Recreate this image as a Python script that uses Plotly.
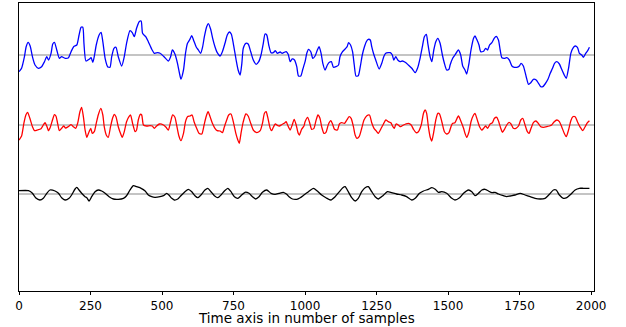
import plotly.graph_objects as go

# ---------------- data (sample index, amplitude) ----------------
blue_x = [0, 9, 19, 25, 32, 39, 47, 56, 68, 79, 89, 97, 103, 112, 118, 124, 132, 141, 149, 161, 173, 182, 191, 202, 210, 217, 223, 227, 234, 245, 252, 258, 263, 270, 280, 287, 293, 301, 310, 318, 324, 332, 339, 347, 359, 368, 376, 388, 396, 403, 411, 420, 427, 432, 443, 452, 464, 473, 485,
          493, 507, 522, 530, 536, 545, 554, 561, 566, 575, 582, 589, 596, 604, 610, 619, 627, 635, 642, 648, 656, 662, 670, 677, 685, 693, 703, 711, 720, 728, 735, 742, 749, 759, 766, 773, 779, 784, 793, 801, 810, 819, 829, 838, 846, 854, 860, 866, 873, 881, 889, 896, 903, 913, 920, 927, 934, 941, 948, 955, 963, 971, 977, 985, 992,
          1000, 1006, 1012, 1020, 1027, 1035, 1043, 1049, 1056, 1062, 1070, 1078, 1085, 1092, 1099, 1108, 1117, 1122, 1131, 1140, 1147, 1152, 1159, 1166, 1172, 1178, 1186, 1193, 1200, 1207, 1214, 1221, 1228, 1233, 1239, 1247, 1259, 1268, 1275, 1282, 1291, 1298, 1305, 1310, 1317, 1324, 1332, 1340, 1350, 1361, 1373, 1385, 1393, 1402, 1410, 1417, 1424, 1429, 1437, 1443, 1450, 1457, 1464, 1472, 1480, 1487, 1495, 1503,
          1507, 1516, 1524, 1536, 1544, 1551, 1559, 1565, 1573, 1580, 1589, 1594, 1600, 1608, 1614, 1624, 1631, 1638, 1645, 1653, 1661, 1668, 1676, 1682, 1688, 1696, 1705, 1714, 1723, 1732, 1740, 1749, 1755, 1763, 1773, 1781, 1789, 1798, 1808, 1816, 1824, 1831, 1839, 1849, 1857, 1865, 1872, 1880, 1889, 1897, 1906, 1913, 1921, 1929, 1936, 1944, 1952, 1959, 1967, 1973, 1981, 1988, 1994]
blue_y = [-16.7, -13.3, -1.7, 8.3, 12.7, 9, -1.7, -10, -13.3, -11.7, -6.7, -1.7, -5, 1.7, 11, 12.7, 5, -3.3, -1.7, -3.3, -2.7, 3.3, 8.3, 10, 20, 27.7, 27.7, 11.7, -6, -4.3, -2.7, -7.3, -1.7, 10, 20, 22.7, 13.3, -3.3, -11.7, -12.3, -1.7, 6.7, 7.7, -1.7, -11, -1.7, 11.7, 24.3, 22.3, 18.3, 26.7, 33.3, 34, 21.7, 18.3, 13.3, 5.7, 1.7, 2.3,
          1.7, -1.7, -6, -1.7, 5, 1, -8.3, -18.3, -24, -15, 1.7, 11.7, 15, 19.3, 15, 8.3, 5, 1.7, 8.3, 18.3, 28.3, 31.3, 25.7, 16.7, 8.3, 2.3, -1, 3.3, 11.7, 20, 23, 21, 11.7, -5, -15, -20, -8.3, 6.7, 11.7, 11, 3.3, -5, -9.3, -6.7, 0, 11.7, 21, 20, 10, 2.3, 2.3, 4.3, 1.7, 3, 1.7, 2.7, 3.3, 0.7, -6.7, -4, -5, -11.7, -21, -21, -14.3,
          -6.7, 1.7, 5.7, 3.3, -3.3, -1, 5, 8.3, 1.7, -8.3, -15, -10, -7.3, -6.7, -12.3, -11.7, -10, -1.7, 3.3, 6, 8.3, 12.3, 10, 3.3, -10, -21, -20.7, -11.7, 0, 7.7, 13.3, 15.7, 15, 8.3, 1.7, -5, -14, -8.3, -1.7, 1.7, 2.3, 2.3, 0, -5, -1.7, -5, -6.7, -6, -7.3, -10, -13.3, -17.7, -13.3, -3.3, 8.3, 18.3, 20.7, 11.7, -1.7, -6.7, 5, 13.3, 16.7, 11.7, 0, -8.3, -15, -14.3,
          -10, -3.3, 0, 5, 0, -11, -15, -19, -8.3, 5, 16.7, 19, 15.7, 10, 3.3, 3.7, 6.7, 5, 10, 12.3, 16.7, 18.7, 15, 5, -2.7, -3.3, -2.7, -5, -11, -12.3, -12.3, -11, -8.3, -11, -21.7, -29.3, -27.7, -24.3, -25, -28.3, -31.7, -31.7, -29, -24.3, -18.3, -13.3, -8.3, -6.7, -9, -14.3, -20, -23.3, -13.3, 1.7, 6.7, 9, 7.7, 1.7, 0, -2.3, 1.7, 4.3, 7.7]

red_x = [0, 9, 17, 24, 30, 38, 47, 54, 65, 77, 85, 91, 98, 103, 110, 117, 124, 129, 135, 141, 149, 156, 163, 172, 182, 190, 198, 205, 213, 219, 225, 231, 237, 245, 251, 256, 263, 270, 277, 286, 293, 298, 305, 312, 320, 327, 333, 339, 347, 357, 361, 368, 376, 385, 390, 397, 406, 411, 417, 424, 429, 435, 446, 458, 466, 473, 481, 491,
         505, 514, 522, 530, 537, 545, 551, 559, 566, 575, 582, 589, 598, 605, 612, 621, 629, 639, 647, 654, 661, 668, 676, 685, 693, 703, 711, 718, 726, 733, 741, 749, 758, 765, 770, 776, 784, 793, 801, 810, 819, 831, 843, 851, 858, 864, 869, 878, 883, 889, 896, 903, 910, 918, 927, 934, 939, 948, 955, 962, 969, 976, 980, 988, 996,
         1000, 1009, 1016, 1023, 1031, 1038, 1045, 1052, 1058, 1066, 1073, 1082, 1090, 1096, 1103, 1113, 1120, 1128, 1138, 1146, 1154, 1161, 1169, 1175, 1181, 1189, 1198, 1206, 1216, 1225, 1233, 1241, 1248, 1256, 1266, 1274, 1282, 1291, 1300, 1307, 1312, 1318, 1326, 1334, 1344, 1352, 1361, 1371, 1379, 1388, 1396, 1406, 1414, 1420, 1425, 1431, 1437, 1443, 1449, 1457, 1464, 1470, 1478, 1487, 1495, 1503, 1510,
         1516, 1524, 1536, 1544, 1554, 1559, 1565, 1573, 1580, 1589, 1594, 1603, 1610, 1618, 1624, 1631, 1638, 1647, 1655, 1662, 1670, 1677, 1684, 1690, 1697, 1705, 1713, 1720, 1728, 1737, 1746, 1754, 1761, 1769, 1777, 1783, 1790, 1798, 1807, 1815, 1824, 1833, 1845, 1854, 1862, 1871, 1880, 1889, 1897, 1906, 1913, 1921, 1929, 1936, 1944, 1952, 1962, 1971, 1979, 1987, 1994]
red_y = [-15, -11, 1.7, 10, 12.7, 6.7, -1.7, -5.7, -5, -3.7, 0, 2.3, -1.7, -5.7, -1.7, 5, 10.3, 9, 1.7, -5.7, -3.3, -1, -3, -1.7, 0.3, -1.7, -3.3, 1.7, 13.3, 17.7, 8.3, -5, -12.3, -6.7, -3.3, -8.3, -6.7, 1.7, 10, 16.7, 10, -1.7, -10, -12.3, -1.7, 6.7, 10.7, 8.3, -1.7, -10, -12.3, -6.7, 3.3, 8.7, 10, 1.7, -6.7, -5, 5, 10.7, 10, 0, -1, -0.7, -1, -3.3, -1, 1,
         0, -2.3, -5, 3.3, 10, 7.7, 0, -11, -15.7, -8.3, 3.3, 8.3, 9, 10, 3.3, -3.3, -8.3, -9, 0, 8.3, 13.3, 8.3, 1.7, -3.3, -5.7, -6, -7.7, -1.7, 5, 10, 11, 3.3, -8.3, -15, -18.3, -8.3, 3.3, 11, 9, 1.7, -5, -7.7, -5.7, 1.7, 11.7, 13.3, 8.3, -3.3, -5.7, -2.3, 1, -0.3, -1, 0.3, 1.7, 3.3, 0, -5, 0, 5.7, 0, -8.3, -10, -4.3, -1,
         3.3, 7.7, 2.3, -4.3, -3.3, 4.3, 10, 6.7, -1.7, -8.3, -7.3, 1, 4.3, 1, -4.3, -5, 1, 2.3, 1.7, 5, 8.3, 6.7, -1.7, -10, -13.3, -11.7, -3.3, 5, 9.3, 10, 2.3, -3.3, -5.7, -8.3, -3.3, 1, 5, 3.3, 2.3, -1.7, -3.3, 1, 0, -1.7, 0, 1, 1.7, 0, -4.3, -7.7, -6.7, 0, 11.7, 15, 11.7, -1.7, -11.7, -16, -8.3, 5, 11.7, 11, 3.3, -6.7, -9, -7.7, -1.7,
         1.7, 2.3, 9, 4.3, -3.3, -8.3, -12.3, -6.7, 3.3, 10, 11.7, 4.3, -1.7, -5, -3.3, -1, -3.3, 1, 2.3, 6.7, 7.7, 3.3, -3.3, -7.3, -4.3, 0, 2.7, 1, -3.3, -3.3, -1, 5, 6.7, 0, -6.7, -8.3, -3.3, 2.3, 4, 1.7, -1.7, -2.3, -1.7, -1, 0, 3.3, 5, 3.3, -1.7, -8.3, -11.7, -5, 4.3, 8.3, 8.3, 3.3, -2.3, -5.7, -1.7, 2.3, 4.3]

black_x = [0, 33, 47, 58, 73, 85, 97, 108, 126, 138, 149, 161, 175, 184, 196, 202, 210, 219, 231, 237, 245, 254, 266, 277, 289, 301, 315, 330, 347, 365, 376, 388, 400, 411, 427, 441, 452, 464, 475, 493, 505, 516, 524, 534, 543, 555, 566, 580, 592, 604, 615, 625, 636, 650, 660, 671, 683, 695, 706, 718, 730, 741, 753, 765, 776, 790, 804, 816, 827, 839, 851, 866, 881, 895, 909, 924, 936, 944, 956, 971, 983,
           996, 1012, 1029, 1043, 1058, 1073, 1090, 1105, 1120, 1132, 1140, 1151, 1163, 1175, 1186, 1198, 1210, 1221, 1233, 1245, 1256, 1272, 1288, 1303, 1320, 1338, 1355, 1373, 1385, 1400, 1414, 1431, 1443, 1455, 1466, 1478, 1495, 1513, 1524, 1540, 1554, 1571, 1583, 1594, 1606, 1618, 1629, 1641, 1653, 1664, 1676, 1693, 1705, 1717, 1734, 1752, 1769, 1787, 1804, 1822, 1839, 1854, 1868, 1878, 1889, 1903, 1915, 1929, 1944, 1959, 1973, 1994]
black_y = [3.3, 3.3, 0.7, -3.7, -6, -4.3, 0.7, 4, 3, 0.7, -3.7, -6, -4.3, -1, 5, 6.7, 4, 0.7, -2.7, -3.7, -7, -2.7, 2.3, 4, 3, 0.7, -2.7, -5, -5.3, -4.3, -1.7, 4, 8.3, 7.3, 5.7, 3, -1, -2.7, -3.3, -2.7, -1.7, 0.7, -1, -4.3, -6, -5, -1.7, 2.3, 4.7, 2.3, -1.7, -3.7, -1, 4, 5.7, 2.3, -1.7, -3.7, -1, 3, 5.7, 2.3, -2.7, -4.3, -1.7, 1.7, 0.7, -2.7, -5, -2.7, 1.7, 4, 0.7, -0.3, 0.7, 1.7, -0.3, -2.7, -5, -5.3, -3.7,
           -1, 2.3, 5.7, 3, -1, -3.7, -6, -2.7, 2.3, 6.3, 7.3, 2.3, -3.7, -7, -4.3, 2.3, 6.3, 7.3, 2.3, -2.7, -5, -1.7, 2.3, 1.3, 0, -1, -2.7, -6, -4.3, 0.7, 3, 4.7, 6.3, 4.7, 1.7, 2.3, 0.7, -4.3, -6, -3.7, 0.7, 4, 2.3, -1.7, 0.7, 4, 4.7, 3, 1.3, 1.7, 0, -1.7, -2.7, -2, -1, 0.7, -1, -2.7, -4.3, -5, -4.3, -0.3, 4, 4, -1, -4.3, -3.7, -0.3, 4, 5.7, 5.7, 5.7]

offsets = [0, -70, -139]          # vertical separation of the three traces
tick_vals = [0, 250, 500, 750, 1000, 1250, 1500, 1750, 2000]
x_label = "Time axis in number of samples"

# ---------------- figure ----------------
fig = go.Figure()
series = [(blue_x, blue_y, "#0000ff"), (red_x, red_y, "#ff0000"), (black_x, black_y, "#000000")]
for off in offsets:
    fig.add_hline(y=off, line=dict(color="#8a8a8a", width=1.2), layer="below")
for (xs, ys, col), off in zip(series, offsets):
    fig.add_trace(go.Scatter(x=xs, y=[v + off for v in ys], mode="lines",
                             line=dict(color=col, width=1.3, shape="spline", smoothing=0.6),
                             showlegend=False, hoverinfo="skip"))

tick_font = dict(family="DejaVu Sans", size=12, color="black")
label_font = dict(family="DejaVu Sans", size=13.5, color="black")
fig.add_annotation(text=x_label, xref="paper", yref="paper", x=0.5, y=0,
                   xanchor="center", yanchor="top", yshift=-18, showarrow=False,
                   borderpad=0, font=label_font)
fig.update_layout(
    width=626, height=327,
    margin=dict(l=19, r=32, t=3, b=36),
    paper_bgcolor="white", plot_bgcolor="white",
    font=tick_font,
    xaxis=dict(range=[0, 2010], tickvals=tick_vals, ticks="outside", ticklen=3,
               tickwidth=1, tickcolor="black", showgrid=False, zeroline=False,
               showline=True, linecolor="black", linewidth=1.1, mirror=True,
               tickfont=tick_font),
    yaxis=dict(range=[-236, 52], showticklabels=False, ticks="", showgrid=False,
               zeroline=False, showline=True, linecolor="black", linewidth=1.1, mirror=True),
)
fig.write_html("out.html", config={"displayModeBar": False, "staticPlot": True},
               post_script="document.body.style.margin='0';document.body.style.padding='0';")
